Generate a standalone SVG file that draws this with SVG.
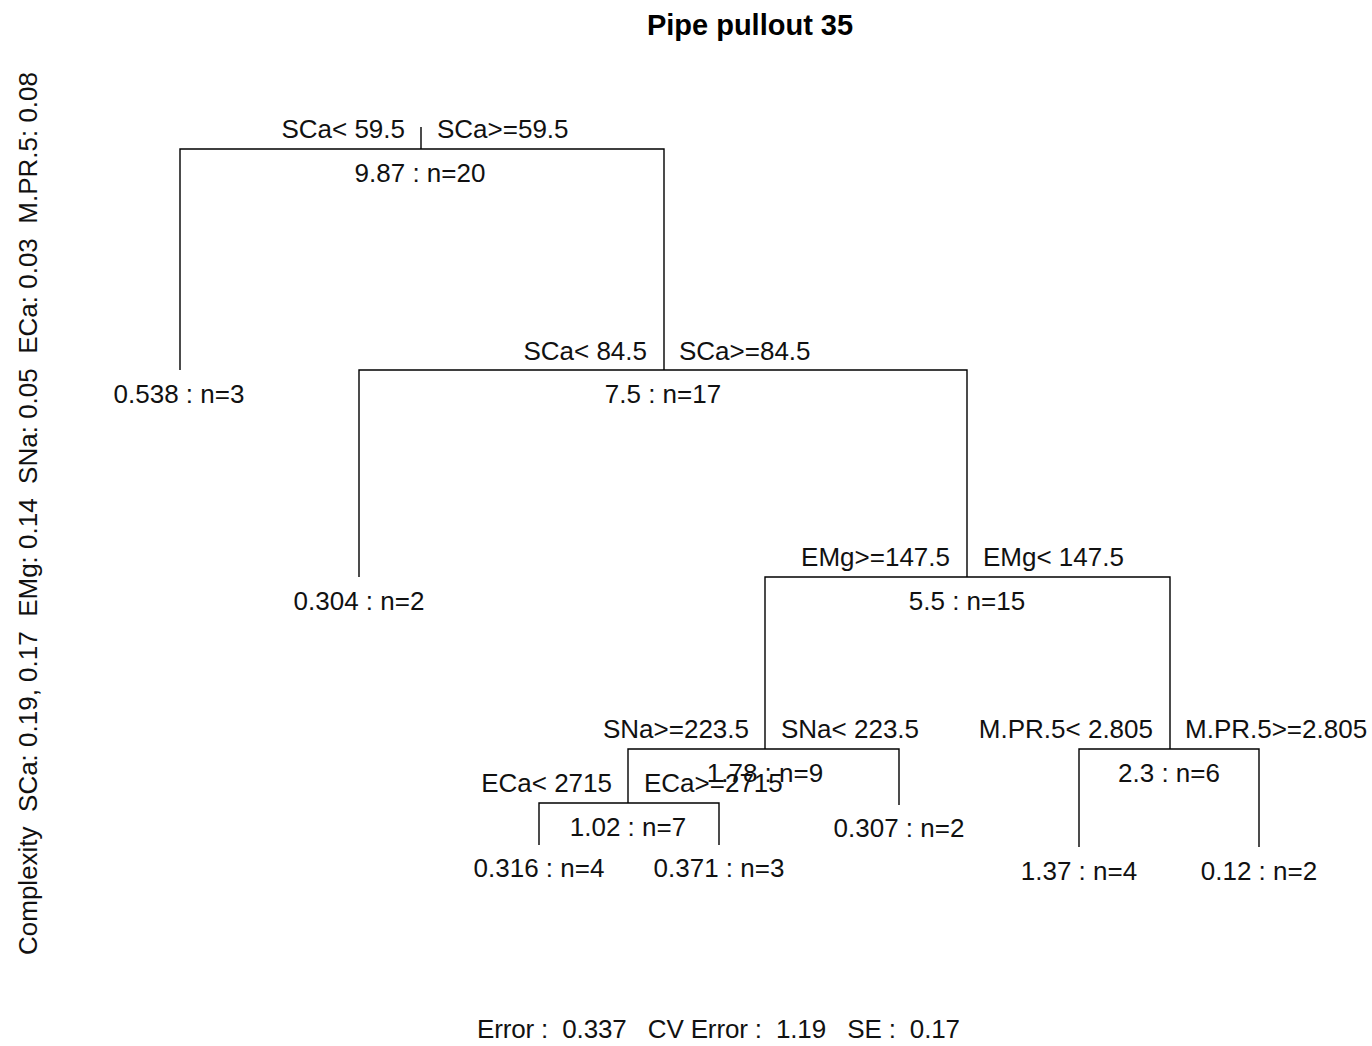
<svg xmlns="http://www.w3.org/2000/svg" width="1372" height="1046" viewBox="0 0 1372 1046">
<style>
text{font-family:"Liberation Sans",Arial,sans-serif;font-size:26px;fill:#111;white-space:pre}
.m{text-anchor:middle}
.e{text-anchor:end}
.title{font-size:29px;font-weight:bold;text-anchor:middle;fill:#000}
.br{fill:none;stroke:#000;stroke-width:1.4}
</style>
<rect width="1372" height="1046" fill="#fff"/>
<text class="title" x="750" y="35">Pipe pullout 35</text>
<text x="37" y="955" transform="rotate(-90 37 955)">Complexity  SCa: 0.19, 0.17  EMg: 0.14  SNa: 0.05  ECa: 0.03  M.PR.5: 0.08</text>
<text x="477" y="1038" textLength="483" lengthAdjust="spacing">Error :  0.337   CV Error :  1.19   SE :  0.17</text>
<g id="connectors">
<path class="br" d="M421 127V149M180 370V149H664V370"/>
<path class="br" d="M359 577V370H967V577"/>
<path class="br" d="M765 749V577H1170V749"/>
<path class="br" d="M628 803V749H899V805"/>
<path class="br" d="M539 845V803H719V845"/>
<path class="br" d="M1079 847V749H1259V847"/>
</g>
<g id="n1">
<text class="e" x="405" y="138">SCa&lt; 59.5</text>
<text x="437" y="138">SCa&gt;=59.5</text>
<text class="m" x="420" y="182">9.87 : n=20</text>
</g>
<g id="n2"><text class="m" x="179" y="403">0.538 : n=3</text></g>
<g id="n3">
<text class="e" x="647" y="360">SCa&lt; 84.5</text>
<text x="679" y="360">SCa&gt;=84.5</text>
<text class="m" x="663" y="403">7.5 : n=17</text>
</g>
<g id="n6"><text class="m" x="359" y="610">0.304 : n=2</text></g>
<g id="n7">
<text class="e" x="950" y="566">EMg&gt;=147.5</text>
<text x="983" y="566">EMg&lt; 147.5</text>
<text class="m" x="967" y="610">5.5 : n=15</text>
</g>
<g id="n14">
<text class="e" x="749" y="738">SNa&gt;=223.5</text>
<text x="781" y="738">SNa&lt; 223.5</text>
<text class="m" x="765" y="782">1.78 : n=9</text>
</g>
<g id="n15">
<text class="e" x="1153" y="738">M.PR.5&lt; 2.805</text>
<text x="1185" y="738">M.PR.5&gt;=2.805</text>
<text class="m" x="1169" y="782">2.3 : n=6</text>
</g>
<g id="n28">
<text class="e" x="612" y="792">ECa&lt; 2715</text>
<text x="644" y="792">ECa&gt;=2715</text>
<text class="m" x="628" y="836">1.02 : n=7</text>
</g>
<g id="n29"><text class="m" x="899" y="837">0.307 : n=2</text></g>
<g id="n56"><text class="m" x="539" y="877">0.316 : n=4</text></g>
<g id="n57"><text class="m" x="719" y="877">0.371 : n=3</text></g>
<g id="n30"><text class="m" x="1079" y="880">1.37 : n=4</text></g>
<g id="n31"><text class="m" x="1259" y="880">0.12 : n=2</text></g>
</svg>
